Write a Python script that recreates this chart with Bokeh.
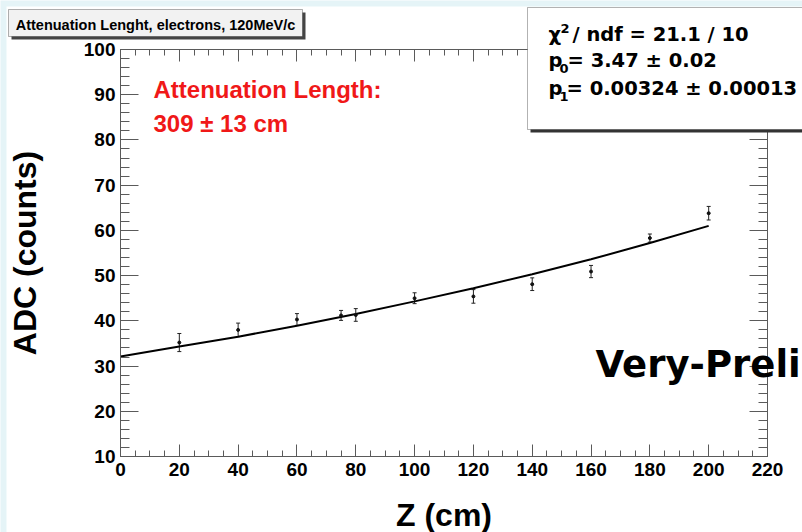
from bokeh.plotting import figure
from bokeh.models import (Range1d, LinearAxis, FixedTicker, Label,
                          BoxAnnotation, ColumnDataSource, Whisker, TeeHead)
from bokeh.embed import file_html
from bokeh.resources import INLINE

# ---- data ----
z_cm = [20, 40, 60, 75, 80, 100, 120, 140, 160, 180, 200]
adc_counts = [35.2, 38.0, 40.3, 41.2, 41.3, 45.0, 45.4, 48.1, 50.9, 58.3, 63.8]
adc_err = [2.0, 1.5, 1.3, 1.1, 1.4, 1.2, 1.5, 1.4, 1.35, 0.9, 1.5]

fit_z = [0, 20, 40, 60, 80, 100, 120, 140, 160, 180, 200]
fit_adc = [32.1, 34.3, 36.5, 38.9, 41.5, 44.3, 47.2, 50.3, 53.6, 57.2, 61.0]

x_major_ticks = list(range(0, 221, 20))
x_minor_ticks = list(range(0, 221, 5))
y_major_ticks = list(range(10, 101, 10))
y_minor_ticks = list(range(10, 101, 2))

title_text = "Attenuation Lenght, electrons, 120MeV/c"
x_title = "Z (cm)"
y_title = "ADC (counts)"

# ---- layout geometry (pixels) ----
W, H = 802, 532
FL, FR, FT, FB = 120, 767, 49, 456
X0, X1, Y0, Y1 = 0, 220, 10, 100
sx = (FR - FL) / (X1 - X0)
sy = (FB - FT) / (Y1 - Y0)

BG = "#e5f4f7"
AX = "#5a5a5a"
FONT = "Liberation Sans"

p = figure(width=W, height=H, output_backend="svg", toolbar_location=None,
           x_range=Range1d(X0 - FL / sx, X1 + (W - FR) / sx),
           y_range=Range1d(Y0 - (H - FB) / sy, Y1 + FT / sy),
           x_axis_location=None, y_axis_location=None, min_border=0)
p.border_fill_color = BG
p.background_fill_color = BG
p.outline_line_color = None
p.grid.visible = False

# white canvas area
p.add_layout(BoxAnnotation(left=6, right=W, top=6, bottom=H,
                           left_units="canvas", right_units="canvas",
                           top_units="canvas", bottom_units="canvas",
                           fill_color="white", fill_alpha=1, line_color=None,
                           level="underlay"))


def make_axis(loc, ticks, minor, tin, mtin, bounds):
    ax = LinearAxis(fixed_location=loc, bounds=bounds,
                    ticker=FixedTicker(ticks=ticks, minor_ticks=minor))
    ax.axis_line_color = AX
    ax.major_tick_line_color = AX
    ax.minor_tick_line_color = AX
    ax.major_tick_in = tin
    ax.major_tick_out = 0
    ax.minor_tick_in = mtin
    ax.minor_tick_out = 0
    ax.major_label_text_font = FONT
    ax.major_label_text_font_style = "bold"
    ax.major_label_text_font_size = "19px"
    ax.major_label_text_color = "black"
    ax.axis_label_text_font = FONT
    ax.axis_label_text_font_style = "bold"
    ax.axis_label_text_font_size = "32px"
    ax.axis_label_text_color = "black"
    return ax


xa = make_axis(Y0, x_major_ticks, x_minor_ticks, 12, 6, (X0, X1))
xa.axis_label = x_title
xa.major_label_standoff = 6
xa.axis_label_standoff = 18
p.add_layout(xa, "below")

ya = make_axis(X0, y_major_ticks, y_minor_ticks, 18, 9, (Y0, Y1))
ya.axis_label = y_title
ya.major_label_standoff = 5
ya.axis_label_standoff = 38
p.add_layout(ya, "left")

# top and right frame axes: ticks only (no labels)
p.add_layout(make_axis(Y1, [], x_minor_ticks, 12, 6, (X0, X1)), "above")
p.add_layout(make_axis(Y1, [], x_major_ticks, 12, 12, (X0, X1)), "above")
p.add_layout(make_axis(X1, [], y_minor_ticks, 18, 9, (Y0, Y1)), "right")
p.add_layout(make_axis(X1, [], y_major_ticks, 18, 18, (Y0, Y1)), "right")

# data
src = ColumnDataSource(dict(z=z_cm, adc=adc_counts,
                            lo=[a - e for a, e in zip(adc_counts, adc_err)],
                            hi=[a + e for a, e in zip(adc_counts, adc_err)]))
p.line(fit_z, fit_adc, line_color="black", line_width=2)
p.add_layout(Whisker(source=src, base="z", lower="lo", upper="hi",
                     line_color="#222222", line_width=1,
                     upper_head=TeeHead(size=4, line_color="#222222"),
                     lower_head=TeeHead(size=4, line_color="#222222")))
p.scatter("z", "adc", source=src, size=3, color="#111111")


def box(l, r, t, b, fill, line=None):
    p.add_layout(BoxAnnotation(left=l, right=r, top=t, bottom=b,
                               left_units="canvas", right_units="canvas",
                               top_units="canvas", bottom_units="canvas",
                               fill_color=fill, fill_alpha=1,
                               line_color=line, line_width=1))


def lab(x, base, t, size, color="black", font=FONT, align="left"):
    # base: wanted baseline in canvas pixels; Bokeh draws slightly lower
    p.add_layout(Label(x=x, y=base - 0.38 * size, x_units="canvas", y_units="canvas",
                       text=t, text_baseline="alphabetic", text_align=align,
                       text_font=font, text_font_style="bold",
                       text_font_size=f"{size}px", text_color=color))


# title box
box(11, 305, 12, 39, "#444444")
box(8, 302, 9, 36, "#f2f2f2", "black")
lab(155, 30, title_text, 14.5, align="center")

# stats box
box(530, 810, 10, 132, "#333333")
box(527, 810, 7, 129, "white", "black")
SF = "DejaVu Sans"
lab(548, 41, "\u03c7", 19.5, font=SF)
lab(560, 33, "2", 13, font=SF)
lab(572, 41, "/ ndf = 21.1 / 10", 19.5, font=SF)
lab(548, 67, "p", 19.5, font=SF)
lab(559, 73, "0", 13, font=SF)
lab(567, 67, "= 3.47 \u00b1 0.02", 19.5, font=SF)
lab(548, 95, "p", 19.5, font=SF)
lab(559, 101, "1", 13, font=SF)
lab(566, 95, "= 0.00324 \u00b1 0.00013", 19.5, font=SF)

# red annotation
lab(153, 98, "Attenuation Length:", 24, color="#f01818")
lab(153, 132, "309 \u00b1 13 cm", 24, color="#f01818")

# overlay text (cut at the right edge in the original slide)
lab(595, 378, "Very-Preli", 37, font="DejaVu Sans")

open("out.html", "w").write(file_html(p, INLINE))
